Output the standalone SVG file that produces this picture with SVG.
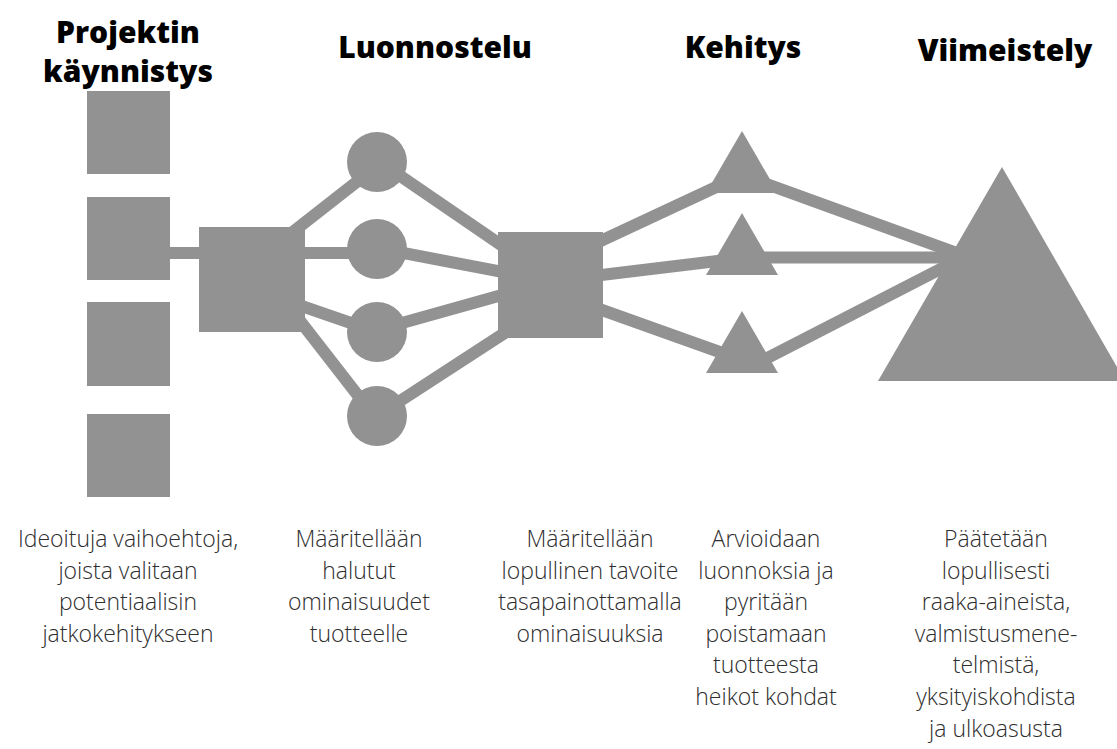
<svg xmlns="http://www.w3.org/2000/svg" width="1117" height="749" viewBox="0 0 1117 749">
<style>
.shape{fill:#929292}
.conn{stroke:#929292;stroke-width:12;fill:none}
.title{font-family:"Open Sans","Liberation Sans",sans-serif;font-weight:800;font-size:30px;fill:#000;text-anchor:middle}
.desc{font-family:"Open Sans","Liberation Sans",sans-serif;font-weight:300;font-size:23px;fill:#2e2e2e;text-anchor:middle}
</style>
<rect width="1117" height="749" fill="#fff"/>
<g id="connectors">
<line class="conn" x1="170" y1="253" x2="220" y2="253"/>
<line class="conn" x1="280" y1="242" x2="377" y2="166"/>
<line class="conn" x1="290" y1="253" x2="377" y2="253"/>
<line class="conn" x1="290" y1="302" x2="377" y2="332"/>
<line class="conn" x1="290" y1="308" x2="377" y2="420"/>
<line class="conn" x1="377" y1="160" x2="520" y2="258"/>
<line class="conn" x1="377" y1="248" x2="540" y2="279"/>
<line class="conn" x1="377" y1="330" x2="520" y2="290"/>
<line class="conn" x1="377" y1="416" x2="520" y2="323"/>
<line class="conn" x1="560" y1="260" x2="742" y2="175"/>
<line class="conn" x1="560" y1="280" x2="742" y2="258"/>
<line class="conn" x1="560" y1="295" x2="742" y2="360"/>
<line class="conn" x1="742" y1="175" x2="962" y2="255"/>
<line class="conn" x1="742" y1="257.5" x2="962" y2="257.5"/>
<line class="conn" x1="748" y1="368" x2="962" y2="258"/>
</g>
<g id="start-options">
<rect class="shape" x="87" y="91" width="83" height="83"/>
<rect class="shape" x="87" y="197" width="83" height="83"/>
<rect class="shape" x="87" y="302" width="83" height="84"/>
<rect class="shape" x="87" y="414" width="83" height="83"/>
</g>
<g id="sketch-start"><rect class="shape" x="199" y="227" width="106" height="105"/></g>
<g id="sketch-circle-1"><circle class="shape" cx="377" cy="162" r="30"/></g>
<g id="sketch-circle-2"><circle class="shape" cx="377" cy="249" r="30"/></g>
<g id="sketch-circle-3"><circle class="shape" cx="377" cy="332" r="30"/></g>
<g id="sketch-circle-4"><circle class="shape" cx="377" cy="416" r="30"/></g>
<g id="sketch-end"><rect class="shape" x="498" y="232" width="105" height="106"/></g>
<g id="dev-triangle-1"><polygon class="shape" points="742,131 778,193 706,193"/></g>
<g id="dev-triangle-2"><polygon class="shape" points="742,213 778,275 706,275"/></g>
<g id="dev-triangle-3"><polygon class="shape" points="742,311 778,373 706,373"/></g>
<g id="final-triangle"><polygon class="shape" points="1002,167 1125,381 878,381"/></g>
<g id="titles">
<text class="title" x="128" y="43">Projektin</text>
<text class="title" x="128" y="82">käynnistys</text>
<text class="title" x="435" y="58">Luonnostelu</text>
<text class="title" x="743" y="58">Kehitys</text>
<text class="title" x="1005" y="61">Viimeistely</text>
</g>
<g id="desc-1">
<text class="desc" x="128" y="547">Ideoituja vaihoehtoja,</text>
<text class="desc" x="128" y="579">joista valitaan</text>
<text class="desc" x="128" y="610">potentiaalisin</text>
<text class="desc" x="128" y="642">jatkokehitykseen</text>
</g>
<g id="desc-2">
<text class="desc" x="359" y="547">Määritellään</text>
<text class="desc" x="359" y="579">halutut</text>
<text class="desc" x="359" y="610">ominaisuudet</text>
<text class="desc" x="359" y="642">tuotteelle</text>
</g>
<g id="desc-3">
<text class="desc" x="590" y="547">Määritellään</text>
<text class="desc" x="590" y="579">lopullinen tavoite</text>
<text class="desc" x="590" y="610">tasapainottamalla</text>
<text class="desc" x="590" y="642">ominaisuuksia</text>
</g>
<g id="desc-4">
<text class="desc" x="766" y="547">Arvioidaan</text>
<text class="desc" x="766" y="579">luonnoksia ja</text>
<text class="desc" x="766" y="610">pyritään</text>
<text class="desc" x="766" y="642">poistamaan</text>
<text class="desc" x="766" y="673">tuotteesta</text>
<text class="desc" x="766" y="705">heikot kohdat</text>
</g>
<g id="desc-5">
<text class="desc" x="996" y="547">Päätetään</text>
<text class="desc" x="996" y="579">lopullisesti</text>
<text class="desc" x="996" y="610">raaka-aineista,</text>
<text class="desc" x="996" y="642">valmistusmene-</text>
<text class="desc" x="996" y="673">telmistä,</text>
<text class="desc" x="996" y="705">yksityiskohdista</text>
<text class="desc" x="996" y="737">ja ulkoasusta</text>
</g>
</svg>
